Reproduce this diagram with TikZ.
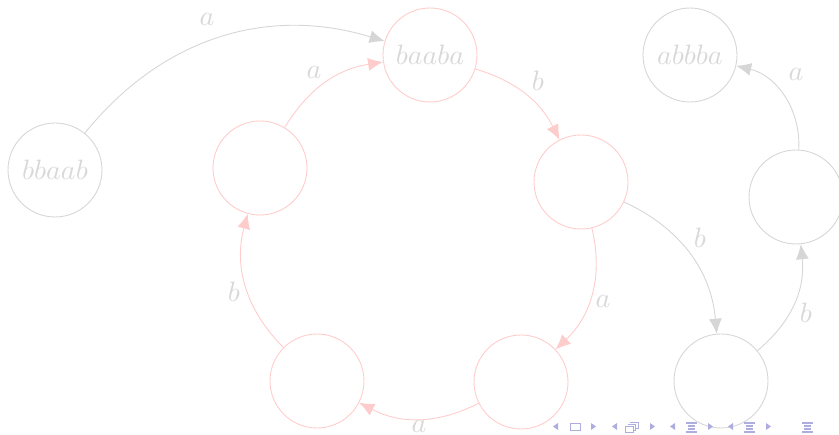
\documentclass[tikz,border=0pt]{standalone}
\usepackage{graphicx}
\usetikzlibrary{arrows.meta}
\definecolor{pinkc}{RGB}{255,204,204}
\definecolor{greyc}{RGB}{214,214,214}
\definecolor{txtc}{RGB}{216,216,216}
\definecolor{navc}{RGB}{173,173,224}
\newcommand{\mylbl}[1]{\scalebox{2.8}{$#1$}}
\begin{document}
\begin{tikzpicture}[x=1pt,y=-1pt,
  st/.style={circle,draw,line width=0.9pt,minimum size=94pt,inner sep=0pt,
    text=txtc},
  gst/.style={st,draw=greyc},
  pst/.style={st,draw=pinkc},
  lab/.style={text=txtc,inner sep=0pt},
  ge/.style={draw=greyc,line width=0.9pt,-{Latex[length=15pt,width=13pt]}},
  pe/.style={draw=pinkc,line width=0.9pt,-{Latex[length=15pt,width=13pt]}},
  nav/.style={fill=navc,draw=none}]
\useasboundingbox (0,0) rectangle (839,435);
% states
\node[gst] (bbaab) at (55,170) {\mylbl{bbaab}};
\node[pst] (baaba) at (430,55) {\mylbl{baaba}};
\node[pst] (pl) at (260,168) {};
\node[pst] (pr) at (581,182) {};
\node[pst] (pbr) at (521,382) {};
\node[pst] (pbl) at (317,381) {};
\node[gst] (abbba) at (690,55) {\mylbl{abbba}};
\node[gst] (gr) at (796,197) {};
\node[gst] (gb) at (721,381) {};
% transitions
\path[ge] (bbaab) to[bend left=34] (baaba);
\path[pe] (pl) to[bend left=25] (baaba);
\path[pe] (baaba) to[bend left=23] (pr);
\path[pe] (pr) to[bend left=30] (pbr);
\path[pe] (pbr) to[bend left=27] (pbl);
\path[pe] (pbl) to[bend left=30] (pl);
\path[ge] (pr) to[bend left=30] (gb);
\path[ge] (gb) to[bend right=28] (gr);
\path[ge] (gr) to[bend right=40] (abbba);
% labels
\node[lab] (l1) at (207,19) {\mylbl{a}};
\node[lab] (l2) at (314,72) {\mylbl{a}};
\node[lab] (l3) at (538,81) {\mylbl{b}};
\node[lab] (l4) at (603,301) {\mylbl{a}};
\node[lab] (l5) at (419,426) {\mylbl{a}};
\node[lab] (l6) at (234,292) {\mylbl{b}};
\node[lab] (l7) at (700,238) {\mylbl{b}};
\node[lab] (l8) at (806,313) {\mylbl{b}};
\node[lab] (l9) at (796,74) {\mylbl{a}};
% navigation symbols
\fill[nav] (558,423) -- (553,426.5) -- (558,430) -- cycle;
\draw[navc,line width=0.8pt] (570.5,423.5) rectangle (580,430.5);
\fill[nav] (591,423) -- (596,426.5) -- (591,430) -- cycle;
\fill[nav] (617,423) -- (612,426.5) -- (617,430) -- cycle;
\draw[navc,line width=0.8pt] (625,426) rectangle (633,432);
\draw[navc,line width=0.8pt] (627.5,424) -- (635.5,424) -- (635.5,430) -- (633,430);
\draw[navc,line width=0.8pt] (630,422) -- (638,422) -- (638,428) -- (635.5,428);
\fill[nav] (650,423) -- (655,426.5) -- (650,430) -- cycle;
\fill[nav] (675,423) -- (670,426.5) -- (675,430) -- cycle;
\fill[nav] (686,422.5) rectangle (697,424);
\fill[nav] (688,425.5) rectangle (695,427);
\fill[nav] (688,428.5) rectangle (695,430);
\fill[nav] (686,431.5) rectangle (697,433);
\fill[nav] (708,423) -- (713,426.5) -- (708,430) -- cycle;
\fill[nav] (733,423) -- (728,426.5) -- (733,430) -- cycle;
\fill[nav] (744,422.5) rectangle (755,424);
\fill[nav] (746,425.5) rectangle (753,427);
\fill[nav] (746,428.5) rectangle (753,430);
\fill[nav] (744,431.5) rectangle (755,433);
\fill[nav] (766,423) -- (771,426.5) -- (766,430) -- cycle;
\fill[nav] (802,422.5) rectangle (813,424);
\fill[nav] (804,425.5) rectangle (811,427);
\fill[nav] (804,428.5) rectangle (811,430);
\fill[nav] (802,431.5) rectangle (813,433);
\end{tikzpicture}
\end{document}
